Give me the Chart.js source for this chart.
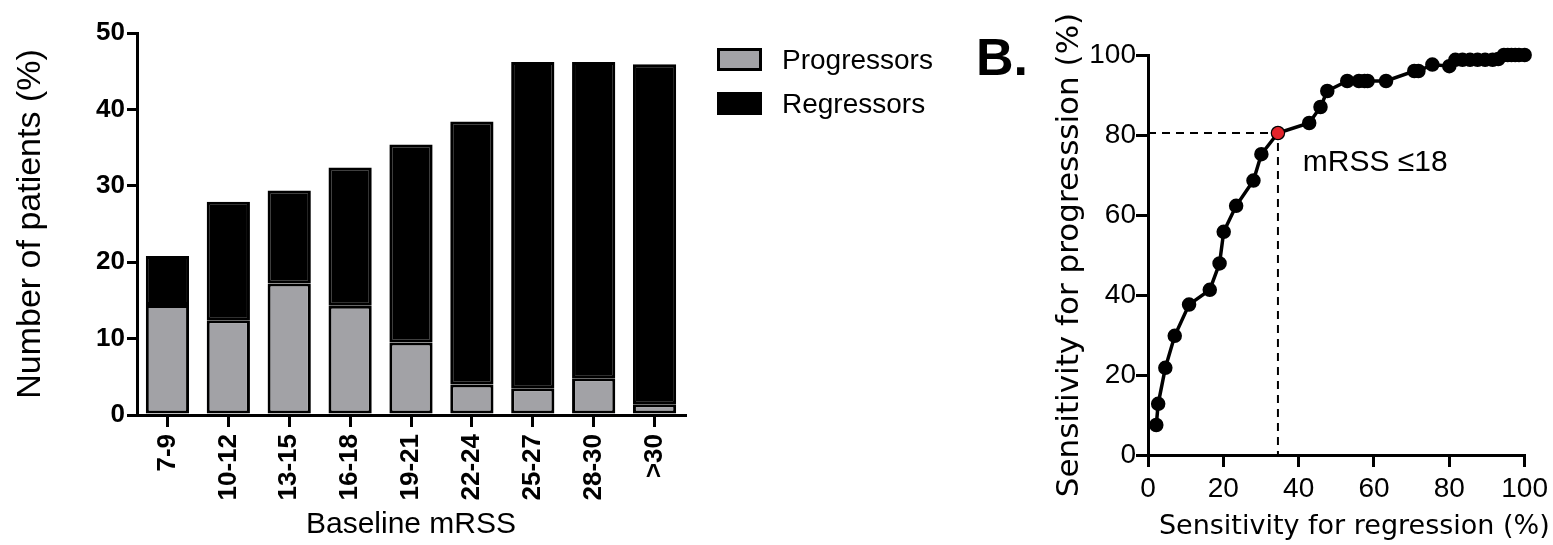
<!DOCTYPE html>
<html>
<head>
<meta charset="utf-8">
<script src="https://cdn.jsdelivr.net/npm/chart.js@4.4.1/dist/chart.umd.min.js"></script>
<style>
  html, body { margin: 0; padding: 0; background: #fff; }
  #wrap { position: relative; width: 1553px; height: 545px; overflow: hidden; }
  #chart-bars { position: absolute; left: 0; top: 0; }
  #chart-roc { position: absolute; left: 960px; top: 0; }
  #panel-b { position: absolute; left: 976px; top: 31px; font: bold 52px "Liberation Sans", Arial, sans-serif; line-height: 52px; }
</style>
</head>
<body>
<div id="wrap">
  <canvas id="chart-bars" width="960" height="545"></canvas>
  <canvas id="chart-roc" width="593" height="545"></canvas>
  <div id="panel-b">B.</div>
</div>
<script>
// ---- panel A: patients (%) by baseline mRSS group
const mrssGroups = ['7-9', '10-12', '13-15', '16-18', '19-21', '22-24', '25-27', '28-30', '>30'];
const progressors = [14.4, 12.4, 17.2, 14.3, 9.5, 4.0, 3.5, 4.8, 1.4];
const regressors = [6.4, 15.5, 12.2, 18.1, 25.9, 34.4, 42.7, 41.4, 44.5];
const barTicks = [0, 10, 20, 30, 40, 50];

// ---- panel B: ROC curve
const sensRegression = [2.2, 2.7, 4.6, 7.1, 10.9, 16.4, 19.0, 20.1, 23.4, 28.0, 30.1, 34.5,
  42.8, 45.8, 47.6, 52.9, 56.0, 57.5, 58.3, 63.2, 70.7, 71.8, 75.5, 80.0, 81.6, 83.5, 85.5,
  87.5, 89.5, 91.5, 93.0, 94.5, 95.5, 96.5, 97.5, 98.5, 100];
const sensProgression = [7.5, 12.8, 21.8, 29.8, 37.6, 41.3, 47.9, 55.8, 62.3, 68.6, 75.2, 80.5,
  83.0, 87.0, 91.0, 93.5, 93.5, 93.5, 93.5, 93.5, 96.0, 96.0, 97.6, 97.2, 98.8, 98.8, 98.8,
  98.8, 98.8, 98.8, 99.0, 100, 100, 100, 100, 100, 100];
const rocTicks = [0, 20, 40, 60, 80, 100];
const cutoff = { x: 34.5, y: 80.5 };
const cutoffLabel = 'mRSS ≤18';
const cutoffLabelAt = { x: 41.1, y: 73 };

const SANS = '"Liberation Sans", Arial, sans-serif';
const DEJAVU = '"DejaVu Sans", Verdana, sans-serif';
Chart.defaults.color = '#000';
Chart.defaults.font.family = SANS;

const axisGrid = { drawOnChartArea: false, drawTicks: true, tickLength: 12, lineWidth: 3, color: '#000' };
const axisBorder = { display: true, width: 3, color: '#000' };

// legend drawn by hand so box/text spacing matches the figure
const boxLegend = {
  id: 'boxLegend',
  afterDraw(chart) {
    const ctx = chart.ctx;
    ctx.save();
    ctx.font = '28px ' + SANS;
    ctx.textBaseline = 'middle';
    chart.data.datasets.forEach((ds, i) => {
      const y = 48 + i * 44;
      ctx.fillStyle = ds.backgroundColor;
      ctx.fillRect(717, y, 45, 23);
      ctx.lineWidth = 3;
      ctx.strokeStyle = '#000';
      ctx.strokeRect(718.5, y + 1.5, 42, 20);
      ctx.fillStyle = '#000';
      ctx.fillText(ds.label, 782, y + 13);
    });
    ctx.restore();
  }
};

new Chart(document.getElementById('chart-bars'), {
  type: 'bar',
  data: {
    labels: mrssGroups,
    datasets: [
      { label: 'Progressors', data: progressors, backgroundColor: '#a2a2a6', borderColor: '#000', borderWidth: 3, borderSkipped: false },
      { label: 'Regressors', data: regressors, backgroundColor: '#000', borderColor: '#000', borderWidth: 3, borderSkipped: false },
    ]
  },
  options: {
    responsive: false,
    animation: false,
    layout: { padding: { left: 0, top: 33, right: 275, bottom: 0 } },
    plugins: { legend: { display: false }, tooltip: { enabled: false } },
    datasets: { bar: { categoryPercentage: 1, barPercentage: 0.71 } },
    scales: {
      x: {
        stacked: true,
        grid: { ...axisGrid, offset: false },
        border: axisBorder,
        ticks: { autoSkip: false, minRotation: 90, maxRotation: 90, padding: 7, font: { size: 26, weight: 'bold' } },
        title: { display: true, text: 'Baseline mRSS', font: { size: 30 }, padding: { top: 0, bottom: 2 } },
        afterFit: s => { s.height = 130; }
      },
      y: {
        stacked: true,
        min: 0, max: 50,
        afterBuildTicks: s => { s.ticks = barTicks.map(v => ({ value: v })); },
        grid: { ...axisGrid, tickLength: 10 },
        border: axisBorder,
        ticks: { padding: 2, font: { size: 26, weight: 'bold' } },
        title: { display: true, text: 'Number of patients (%)', font: { size: 34 }, padding: { top: 10, bottom: 0 } },
        afterFit: s => { s.width = 137; }
      }
    }
  },
  plugins: [boxLegend]
});

// cutoff annotation + x title (the figure's x title sits right of centre)
const rocText = {
  id: 'rocText',
  afterDraw(chart) {
    const { ctx, chartArea, scales: { x, y } } = chart;
    ctx.save();
    ctx.fillStyle = '#000';
    ctx.textBaseline = 'middle';
    ctx.font = '30px ' + SANS;
    ctx.fillText(cutoffLabel, x.getPixelForValue(cutoffLabelAt.x), y.getPixelForValue(cutoffLabelAt.y));
    ctx.font = '27px ' + DEJAVU;
    ctx.textAlign = 'center';
    ctx.fillText('Sensitivity for regression (%)', (chartArea.left + chartArea.right) / 2 + 18, 527);
    ctx.restore();
  }
};

const rocPoints = sensRegression.map((v, i) => ({ x: v, y: sensProgression[i] }));

new Chart(document.getElementById('chart-roc'), {
  type: 'scatter',
  data: {
    datasets: [
      { data: [cutoff], pointRadius: 5.5, pointBackgroundColor: '#e3242b', pointBorderColor: '#e3242b', order: 0, clip: false },
      { data: rocPoints, showLine: true, borderColor: '#000', borderWidth: 3.5, pointRadius: 5.5, pointBackgroundColor: '#000', pointBorderColor: '#000', order: 1, clip: false },
      { data: [{ x: 0, y: cutoff.y }, cutoff, { x: cutoff.x, y: 0 }], showLine: true, borderColor: '#000', borderWidth: 2, borderDash: [8, 6], pointRadius: 0, order: 2 },
    ]
  },
  options: {
    responsive: false,
    animation: false,
    layout: { padding: { left: 0, top: 55, right: 28, bottom: 0 } },
    plugins: { legend: { display: false }, tooltip: { enabled: false } },
    scales: {
      x: {
        type: 'linear', min: 0, max: 100,
        afterBuildTicks: s => { s.ticks = rocTicks.map(v => ({ value: v })); },
        grid: axisGrid,
        border: axisBorder,
        ticks: { padding: 5, font: { size: 28 } },
        afterFit: s => { s.height = 90; }
      },
      y: {
        type: 'linear', min: 0, max: 100,
        afterBuildTicks: s => { s.ticks = rocTicks.map(v => ({ value: v })); },
        grid: axisGrid,
        border: axisBorder,
        ticks: { padding: 0, font: { size: 28 } },
        title: { display: true, text: 'Sensitivity for progresssion (%)', font: { family: DEJAVU, size: 31 }, padding: { top: 91, bottom: 0 } },
        afterFit: s => { s.width = 188; }
      }
    }
  },
  plugins: [rocText]
});
</script>
</body>
</html>
